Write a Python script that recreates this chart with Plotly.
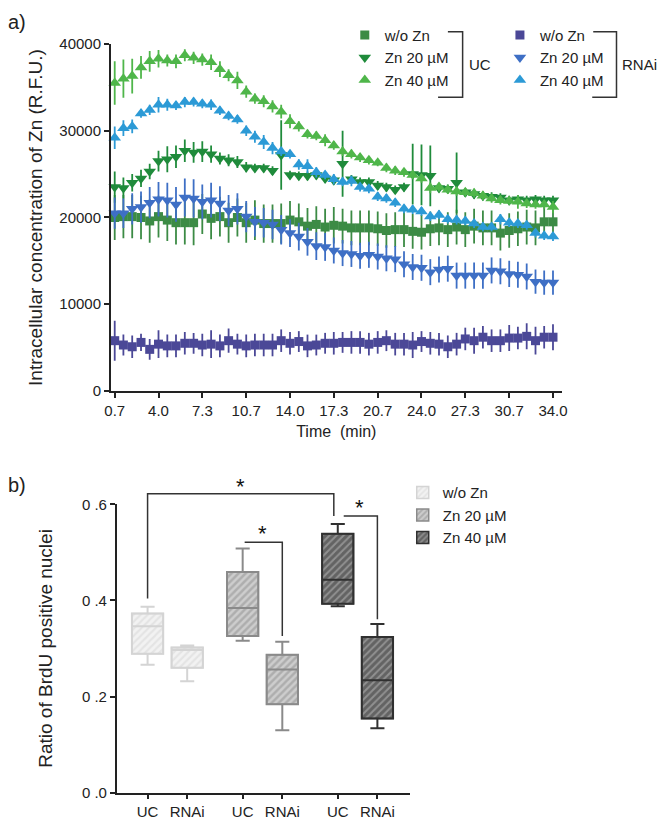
import plotly.graph_objects as go

# ---------------- Panel a) data ----------------
time_min = [0.67, 1.33, 2.0, 2.67, 3.33, 4.0, 4.67, 5.33, 6.0, 6.67,
            7.33, 8.0, 8.67, 9.33, 10.0, 10.67, 11.33, 12.0, 12.67, 13.33,
            14.0, 14.67, 15.33, 16.0, 16.67, 17.33, 18.0, 18.67, 19.33, 20.0,
            20.67, 21.33, 22.0, 22.67, 23.33, 24.0, 24.67, 25.33, 26.0, 26.67,
            27.33, 28.0, 28.67, 29.33, 30.0, 30.67, 31.33, 32.0, 32.67, 33.33, 34.0]
time_tickvals = [0.67, 4.0, 7.33, 10.67, 14.0, 17.33, 20.67, 24.0, 27.33, 30.67, 34.0]
time_ticktext = ["0.7", "4.0", "7.3", "10.7", "14.0", "17.3", "20.7", "24.0", "27.3", "30.7", "34.0"]
rfu_tickvals = [0, 10000, 20000, 30000, 40000]
rfu_ticktext = ["0", "10000", "20000", "30000", "40000"]

uc_wo = [20000, 20100, 20100, 20000, 19600, 20100, 19700, 19400, 19400, 19400,
         20400, 19900, 20100, 19400, 20000, 19400, 19700, 19300, 19300, 19300,
         19700, 19500, 19000, 19200, 18900, 19100, 19000, 18800, 18800, 18800,
         18700, 18500, 18600, 18600, 18400, 18300, 18700, 18800, 18600, 18900,
         18600, 19000, 18800, 18800, 18200, 18500, 18700, 18900, 18800, 19500, 19500]
uc_wo_err = [2600, 2500, 2500, 2500, 2500, 2400, 2400, 2500, 2500, 2600,
             2300, 2400, 2300, 2300, 2200, 2300, 2300, 2200, 2200, 2300,
             2200, 2100, 2100, 2100, 2100, 2100, 2000, 2000, 2000, 2000,
             2000, 2000, 2000, 2000, 2000, 2000, 2000, 2000, 2000, 2000,
             2000, 2000, 2000, 2000, 2000, 2000, 2000, 2000, 2000, 1900, 1900]
uc_zn20 = [23500, 23400, 24000, 24500, 25300, 26500, 26700, 27000, 27700, 27500,
           27600, 27300, 26800, 26600, 26400, 25800, 25700, 25700, 25400, 27200,
           24900, 24800, 24800, 24900, 24500, 24300, 26200, 24400, 24100, 24100,
           23700, 23500, 23200, 23500, 25000, 24900, 24800, 23400, 23300, 24000,
           22900, 22700, 22500, 22400, 22300, 22000, 22100, 22000, 22100, 22000, 22000]
uc_zn20_err = [1800, 1200, 1000, 1000, 900, 1200, 1500, 1300, 1300, 1200,
               1200, 1000, 700, 700, 700, 600, 500, 500, 500, 4000,
               500, 500, 500, 500, 500, 500, 3800, 500, 500, 500,
               500, 500, 500, 500, 3500, 3500, 3500, 500, 500, 3500,
               500, 500, 500, 500, 500, 500, 500, 500, 500, 500, 500]
uc_zn40 = [35500, 36000, 36300, 37300, 38000, 38300, 38100, 38000, 38700, 38400,
           38200, 37900, 37100, 36400, 35800, 34500, 33700, 33400, 32800, 32200,
           31100, 30500, 29600, 29400, 28900, 28300, 27600, 27300, 26900, 26600,
           26300, 25700, 25400, 25200, 24900, 24500, 23400, 23500, 23200, 23000,
           22900, 22800, 22500, 22200, 22000, 21900, 21800, 21600, 21500, 21500, 21200]
uc_zn40_err = [2500, 2200, 2000, 1300, 1200, 1000, 700, 800, 700, 700,
               700, 900, 900, 700, 1000, 700, 600, 700, 700, 800,
               800, 600, 500, 500, 700, 500, 500, 500, 500, 500,
               400, 500, 500, 500, 500, 500, 600, 500, 500, 500,
               500, 500, 500, 500, 500, 500, 800, 500, 500, 500, 700]
rnai_wo = [5800, 5300, 5100, 5600, 4800, 5400, 5200, 5200, 5500, 5500,
           5300, 5400, 5200, 5800, 5400, 5200, 5300, 5300, 5300, 5800,
           5500, 5700, 5200, 5300, 5500, 5500, 5600, 5600, 5600, 5400,
           5600, 5800, 5400, 5400, 5300, 5700, 5500, 5400, 5100, 5400,
           6000, 5800, 6200, 5800, 5800, 6100, 6100, 6300, 5800, 6200, 6200]
rnai_wo_err = [2300, 1200, 1300, 1000, 1200, 1600, 1300, 1300, 1300, 1200,
               1300, 1600, 1300, 1400, 1200, 1300, 1300, 1300, 1300, 1300,
               1300, 1200, 1300, 1200, 1200, 1300, 1200, 1300, 1300, 1300,
               1300, 1200, 1300, 1300, 1500, 1200, 1300, 1300, 1300, 1300,
               1300, 1500, 1300, 1300, 1300, 1500, 1300, 1500, 1600, 1300, 1500]
rnai_zn20 = [20500, 20500, 21000, 21200, 21700, 22100, 22000, 21500, 22300, 22200,
             21800, 22000, 21600, 20800, 21000, 20100, 19500, 19400, 19200, 18600,
             18200, 17800, 17200, 16700, 16600, 16200, 15900, 15800, 15600, 15700,
             15500, 15300, 15200, 14600, 14300, 14200, 13700, 14000, 14100, 13300,
             13300, 13300, 13300, 13900, 13800, 13500, 13400, 13200, 12600, 12500, 12500]
rnai_zn20_err = [1800, 1700, 1800, 1800, 1800, 2000, 2000, 2000, 2200, 2200,
                 2000, 2000, 2000, 1800, 1800, 1800, 1700, 1700, 1700, 1700,
                 1600, 1600, 1600, 1600, 1600, 1500, 1500, 1500, 1500, 1500,
                 1500, 1500, 1500, 1500, 1500, 1500, 1500, 1500, 1500, 1500,
                 1500, 1500, 1500, 1500, 1500, 1500, 1500, 1500, 1400, 1400, 1400]
rnai_zn40 = [29200, 30300, 30500, 32000, 32400, 33000, 33000, 32900, 33300, 33300,
             33100, 33000, 32300, 31700, 31300, 30000, 29300, 28700, 28000, 27600,
             27300, 26100, 25900, 25200, 24900, 24400, 24100, 24200, 23500, 23300,
             22400, 22200, 21700, 21000, 20900, 20700, 20100, 20300, 19800, 19700,
             19600, 19300, 18900, 18900, 19800, 19400, 19300, 19100, 18200, 17900, 17800]
rnai_zn40_err = [1300, 900, 800, 500, 600, 900, 700, 500, 600, 500,
                 500, 600, 500, 500, 500, 600, 700, 800, 700, 500,
                 500, 600, 800, 600, 500, 600, 500, 600, 500, 500,
                 500, 500, 500, 500, 500, 500, 500, 500, 500, 500,
                 500, 500, 500, 500, 600, 500, 500, 500, 500, 500, 500]

# ---------------- Panel b) data ----------------
groups = ["w/o Zn", "Zn 20 \u00b5M", "Zn 40 \u00b5M"]
box_pos = [[0, 1], [2.4, 3.4], [4.8, 5.8]]
box_labels = ["UC", "RNAi", "UC", "RNAi", "UC", "RNAi"]
box_tickvals = [0, 1, 2.4, 3.4, 4.8, 5.8]
box_low = [[0.266, 0.232], [0.316, 0.130], [0.388, 0.134]]
box_q1 = [[0.289, 0.260], [0.326, 0.184], [0.393, 0.154]]
box_med = [[0.346, 0.297], [0.384, 0.256], [0.443, 0.234]]
box_q3 = [[0.373, 0.302], [0.459, 0.287], [0.539, 0.324]]
box_high = [[0.387, 0.306], [0.508, 0.314], [0.559, 0.351]]
ratio_tickvals = [0, 0.2, 0.4, 0.6]
ratio_ticktext = ["0 .0", "0 .2", "0 .4", "0 .6"]

# significance brackets: (x_left, y_left_bottom, x_right, y_right_bottom, y_top, star_x, star_y)
brackets = [
    (0.0, 0.404, 4.7, 0.576, 0.622, 2.35, 0.638),
    (2.45, 0.521, 3.4, 0.326, 0.521, 2.9, 0.54),
    (4.95, 0.576, 5.8, 0.361, 0.576, 5.35, 0.594),
]

W, H = 666, 829
FONT = "Liberation Sans, Arial, sans-serif"
fig = go.Figure()

def px(x):
    return x / W

def py(y):
    return 1 - y / H

series = [
    ("w/o Zn", uc_wo, uc_wo_err, "square", 9, "#3c8b45", "legend"),
    ("Zn 20 \u00b5M", uc_zn20, uc_zn20_err, "triangle-down", 11, "#1f8b3b", "legend"),
    ("Zn 40 \u00b5M", uc_zn40, uc_zn40_err, "triangle-up", 11, "#4fb64a", "legend"),
    ("w/o Zn", rnai_wo, rnai_wo_err, "square", 9, "#4b4897", "legend2"),
    ("Zn 20 \u00b5M", rnai_zn20, rnai_zn20_err, "triangle-down", 11, "#3e6fc5", "legend2"),
    ("Zn 40 \u00b5M", rnai_zn40, rnai_zn40_err, "triangle-up", 11, "#2c9ad6", "legend2"),
]
for name, ys, err, sym, size, col, lg in series:
    fig.add_trace(go.Scatter(
        x=time_min, y=ys, mode="markers", name=name, legend=lg,
        marker=dict(symbol=sym, size=size, color=col, line=dict(width=0)),
        error_y=dict(type="data", array=err, visible=True, color=col, thickness=1.8, width=0),
        xaxis="x", yaxis="y", cliponaxis=False,
    ))

# Panel b boxes: hatched bar (Q1..Q3) + box outline/whiskers
box_styles = [
    ("#d4d4d4", "#f2f2f2", "#d6d6d6", 0.45),
    ("#8a8a8a", "#cdcdcd", "#8f8f8f", 0.5),
    ("#303030", "#909090", "#353535", 0.6),
]
for gi, g in enumerate(groups):
    line_c, bg_c, fg_c, sol = box_styles[gi]
    fig.add_trace(go.Bar(
        x=box_pos[gi], y=[box_q3[gi][j] - box_q1[gi][j] for j in range(2)], base=box_q1[gi],
        width=0.79, name=g, legend="legend3",
        marker=dict(color=bg_c, line=dict(color=line_c, width=1.5),
                    pattern=dict(shape="/", fgcolor=fg_c, bgcolor=bg_c, size=5, solidity=sol)),
        xaxis="x2", yaxis="y2", hoverinfo="skip",
    ))
    fig.add_trace(go.Box(
        x=box_pos[gi], q1=box_q1[gi], median=box_med[gi], q3=box_q3[gi],
        lowerfence=box_low[gi], upperfence=box_high[gi],
        width=0.79, whiskerwidth=0.45, fillcolor="rgba(0,0,0,0)",
        line=dict(color=line_c, width=2), showlegend=False,
        xaxis="x2", yaxis="y2", boxpoints=False,
    ))

axis_common = dict(showgrid=False, zeroline=False, showline=True, linecolor="#222",
                   linewidth=1.5, ticks="outside", ticklen=5, tickcolor="#222", tickwidth=1.5,
                   tickfont=dict(family=FONT, size=15, color="#222"))

fig.update_layout(
    width=W, height=H, margin=dict(l=0, r=0, t=0, b=0),
    paper_bgcolor="white", plot_bgcolor="rgba(0,0,0,0)",
    font=dict(family=FONT, size=15, color="#222"),
    barmode="overlay", boxmode="overlay",
    xaxis=dict(domain=[px(106.7), px(566)], range=[0.37, 34.67], anchor="y",
               tickvals=time_tickvals, ticktext=time_ticktext,
               title=dict(text="Time  (min)", font=dict(size=16), standoff=8), **axis_common),
    yaxis=dict(domain=[py(390), py(35.7)], range=[0, 40000], anchor="x",
               tickvals=rfu_tickvals, ticktext=rfu_ticktext,
               title=dict(text="Intracellular concentration of Zn (R.F.U.)", font=dict(size=19), standoff=12),
               **axis_common),
    xaxis2=dict(domain=[px(112.7), px(411.7)], range=[-0.78, 6.63], anchor="y2",
                tickvals=box_tickvals, ticktext=box_labels, **axis_common),
    yaxis2=dict(domain=[py(800), py(505.7)], range=[0, 0.6], anchor="x2",
                tickvals=ratio_tickvals, ticktext=ratio_ticktext,
                title=dict(text="Ratio of BrdU positive nuclei", font=dict(size=19), standoff=24),
                **axis_common),
    # invisible axis sharing the same scale, extended upward to hold the significance brackets
    yaxis3=dict(domain=[py(800), py(476.3)], range=[0, 0.66], anchor="x2", visible=False,
                showgrid=False, zeroline=False),
    legend=dict(x=px(345), y=py(10), xanchor="left", yanchor="top", bgcolor="rgba(0,0,0,0)",
                font=dict(size=15), tracegroupgap=0, itemwidth=30),
    legend2=dict(x=px(503), y=py(10), xanchor="left", yanchor="top", bgcolor="rgba(0,0,0,0)",
                 font=dict(size=15), tracegroupgap=0, itemwidth=30),
    legend3=dict(x=px(404), y=py(477), xanchor="left", yanchor="top", bgcolor="rgba(0,0,0,0)",
                 font=dict(size=15), tracegroupgap=0, itemwidth=30),
)

for xl, yl, xr, yr, yt, sx, sy in brackets:
    fig.add_shape(type="path", xref="x2", yref="y3",
                  path=f"M {xl},{yl} L {xl},{yt} L {xr},{yt} L {xr},{yr}",
                  line=dict(color="#333", width=1.5))
    fig.add_annotation(x=sx, y=sy, xref="x2", yref="y3", text="*", showarrow=False,
                       font=dict(size=22, color="#111"), yanchor="middle")

# legend group brackets (panel a)
for xt, xb, xv, label in [(450, 440, 465, "UC"), (598, 597, 621.7, "RNAi")]:
    fig.add_shape(type="path", xref="paper", yref="paper",
                  path=f"M {px(xt)},{py(23.3)} L {px(xv)},{py(23.3)} L {px(xv)},{py(90)} L {px(xb)},{py(90)}",
                  line=dict(color="#333", width=1.5))
    fig.add_annotation(x=px(xv + 4), y=py(57), xref="paper", yref="paper", text=label,
                       showarrow=False, xanchor="left", yanchor="middle", font=dict(size=15))

# panel letters
fig.add_annotation(x=0, y=py(13), xref="paper", yref="paper", text="a)", showarrow=False,
                   xanchor="left", yanchor="middle", font=dict(size=20))
fig.add_annotation(x=0, y=py(486), xref="paper", yref="paper", text="b)", showarrow=False,
                   xanchor="left", yanchor="middle", font=dict(size=20))

fig.write_html("out.html", config={"displayModeBar": False},
               post_script="document.body.style.margin='0';document.body.style.overflow='hidden';")
